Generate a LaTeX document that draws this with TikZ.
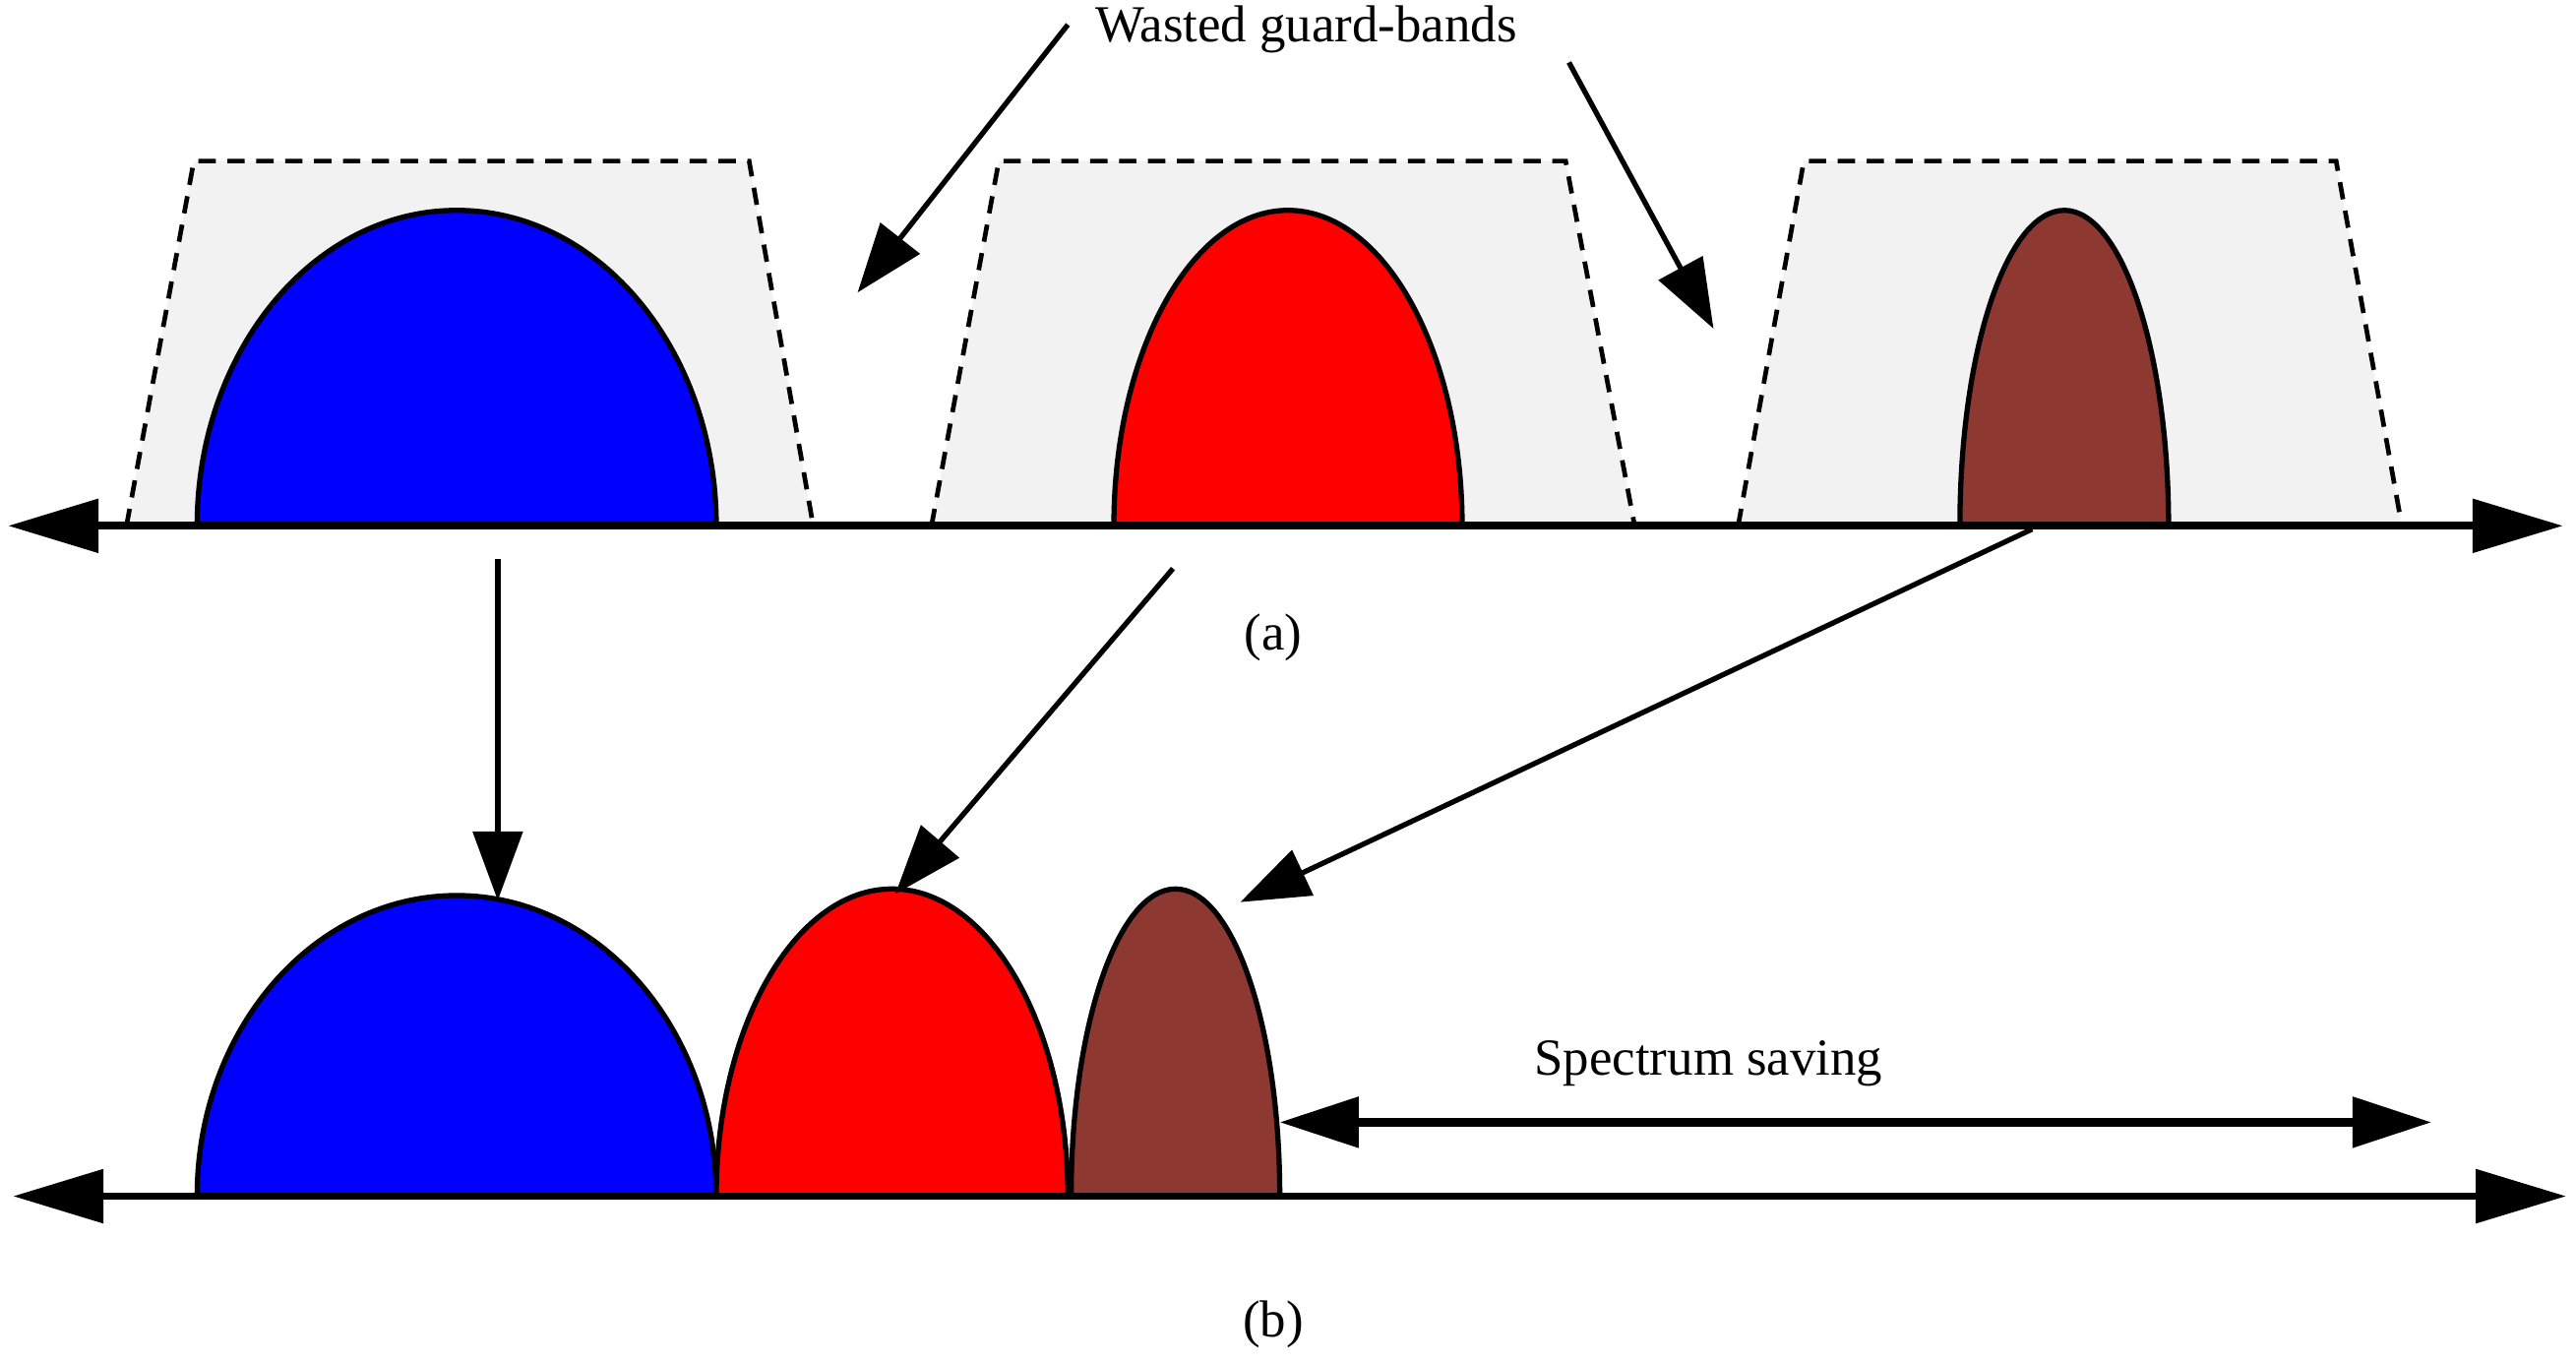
\documentclass[tikz,border=0pt]{standalone}
\usepackage{fontspec}
\setmainfont{Liberation Serif}
\usetikzlibrary{arrows.meta}
\definecolor{brn}{RGB}{142,56,50}
\definecolor{gb}{RGB}{242,242,242}
\begin{document}
\begin{tikzpicture}[x=0.01cm,y=-0.01cm,
 axis/.style={line width=1.3pt,{Triangle[length=0.55cm,width=0.32cm]}-{Triangle[length=0.55cm,width=0.32cm]}},
 guard/.style={dashed,line width=0.8pt,fill=gb,dash pattern=on 3pt off 2pt},
 lobe/.style={line width=0.9pt,draw=black},
 arr/.style={line width=0.9pt,-{Triangle[length=0.42cm,width=0.3cm]}},
 lbl/.style={font=\fontsize{9}{10}\selectfont}]
\useasboundingbox (0,0) rectangle (1568,829);
% guard bands
\draw[guard] (77,320) -- (118,98) -- (456,98) -- (495,320);
\draw[guard] (567,320) -- (608,98) -- (953,98) -- (995,320);
\draw[guard] (1058,320) -- (1098,98) -- (1422,98) -- (1462,320);
% lobes (a)
\filldraw[lobe,fill=blue] (120,320) arc[start angle=180,end angle=0,x radius=158,y radius=-192] -- cycle;
\filldraw[lobe,fill=red] (678,320) arc[start angle=180,end angle=0,x radius=106,y radius=-192] -- cycle;
\filldraw[lobe,fill=brn] (1193,320) arc[start angle=180,end angle=0,x radius=63.5,y radius=-192] -- cycle;
% lobes (b)
\filldraw[lobe,fill=blue] (120,728) arc[start angle=180,end angle=0,x radius=158,y radius=-183] -- cycle;
\filldraw[lobe,fill=red] (436,728) arc[start angle=180,end angle=0,x radius=107,y radius=-187] -- cycle;
\filldraw[lobe,fill=brn] (652,728) arc[start angle=180,end angle=0,x radius=63.5,y radius=-187] -- cycle;
% axes
\coordinate (al) at (5,320); \coordinate (ar) at (1560,320);
\coordinate (bl) at (8,728); \coordinate (br) at (1562,728);
\draw[axis] (al) -- (ar);
\draw[axis] (bl) -- (br);
% labels
\node[lbl] (la) at (775,388) {(a)};
\node[lbl] (lb) at (775,806) {(b)};
\node[lbl] (wg) at (795,18) {Wasted guard-bands};
\node[lbl] (ss) at (1040,647) {Spectrum saving};
% arrows
\coordinate (w1) at (650,15); \coordinate (w1e) at (522,178);
\coordinate (w2) at (955,38); \coordinate (w2e) at (1043,200);
\draw[arr] (w1) -- (w1e);
\draw[arr] (w2) -- (w2e);
\coordinate (m1) at (303,340); \coordinate (m1e) at (303,548);
\coordinate (m2) at (714,346); \coordinate (m2e) at (545,544);
\coordinate (m3) at (1237,322); \coordinate (m3e) at (755,549);
\draw[arr] (m1) -- (m1e);
\draw[arr] (m2) -- (m2e);
\draw[arr] (m3) -- (m3e);
\coordinate (s1) at (779,683); \coordinate (s2) at (1480,683);
\draw[line width=1.4pt,{Triangle[length=0.48cm,width=0.3cm]}-{Triangle[length=0.48cm,width=0.3cm]}] (s1) -- (s2);
\end{tikzpicture}
\end{document}
